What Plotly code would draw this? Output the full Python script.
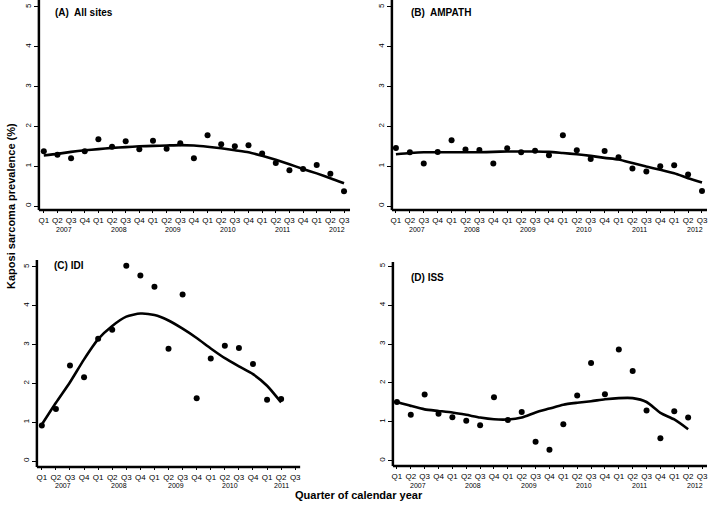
import plotly.graph_objects as go

quarters = ["Q1", "Q2", "Q3", "Q4"]
years_full = ["2007", "2008", "2009", "2010", "2011", "2012"]

# Panel A: All sites (Q1 2007 .. Q3 2012)
a_points = [1.375, 1.29, 1.2, 1.375, 1.675, 1.49, 1.625, 1.425, 1.64, 1.44, 1.575, 1.2,
            1.775, 1.55, 1.5, 1.525, 1.32, 1.08, 0.9, 0.93, 1.03, 0.81, 0.37]
a_fit = [1.27, 1.31, 1.36, 1.40, 1.43, 1.46, 1.48, 1.50, 1.51, 1.52, 1.53, 1.52,
         1.49, 1.45, 1.40, 1.35, 1.26, 1.16, 1.05, 0.93, 0.82, 0.70, 0.57]

# Panel B: AMPATH
b_points = [1.46, 1.35, 1.07, 1.36, 1.65, 1.42, 1.41, 1.07, 1.45, 1.35, 1.39, 1.275,
            1.775, 1.4, 1.18, 1.38, 1.225, 0.94, 0.87, 1.0, 1.025, 0.79, 0.38]
b_fit = [1.30, 1.33, 1.35, 1.35, 1.35, 1.35, 1.35, 1.36, 1.37, 1.37, 1.37, 1.36,
         1.33, 1.30, 1.26, 1.21, 1.17, 1.08, 0.99, 0.91, 0.82, 0.70, 0.59]

# Panel C: IDI (Q1 2007 .. Q2 2011, axis to Q3 2011)
c_points = [0.915, 1.34, 2.46, 2.16, 3.15, 3.385, 5.03, 4.78, 4.49, 2.89, 4.29, 1.615,
            2.64, 2.97, 2.91, 2.5, 1.58, 1.6]
c_fit = [0.94, 1.50, 2.03, 2.62, 3.14, 3.48, 3.72, 3.80, 3.76, 3.62, 3.41, 3.17,
         2.90, 2.65, 2.44, 2.24, 1.94, 1.51]

# Panel D: ISS (Q1 2007 .. Q2 2012, axis to Q3 2012)
d_points = [1.51, 1.18, 1.7, 1.21, 1.12, 1.03, 0.91, 1.63, 1.05, 1.25, 0.49, 0.28,
            0.94, 1.68, 2.51, 1.71, 2.86, 2.31, 1.29, 0.58, 1.27, 1.11]
d_fit = [1.51, 1.41, 1.32, 1.28, 1.24, 1.18, 1.11, 1.065, 1.06, 1.11, 1.24, 1.34,
         1.44, 1.49, 1.53, 1.58, 1.61, 1.61, 1.51, 1.23, 1.06, 0.81]

panel_titles = ["(A)  All sites", "(B)  AMPATH", "(C) IDI", "(D) ISS"]
y_title = "Kaposi sarcoma prevalence (%)"
x_title = "Quarter of calendar year"

W, H = 709, 506
FONT = "Liberation Sans, Arial, sans-serif"

def px_x(p):
    return p / W

def px_y(p):
    return (H - p) / H

panels = [
    dict(points=a_points, fit=a_fit, nq=23, xdom=(38, 350), ydom=(0, 210),
         xr=[-0.36, 22.44], yr=[-0.1, 5.175], title_xy=(52, 13), year_y=229,
         year_x=[1.5, 5.5, 9.5, 13.5, 17.5, 21.5]),
    dict(points=b_points, fit=b_fit, nq=23, xdom=(392, 708), ydom=(0, 210),
         xr=[-0.29, 22.36], yr=[-0.1, 5.175], title_xy=(409, 13), year_y=229,
         year_x=[1.5, 5.5, 9.5, 13.5, 17.5, 21.5]),
    dict(points=c_points, fit=c_fit, nq=19, xdom=(36, 300), ydom=(260, 467),
         xr=[-0.35, 18.35], yr=[-0.154, 5.18], title_xy=(51, 265), year_y=485,
         year_x=[1.5, 5.5, 9.5, 13.4, 17.0]),
    dict(points=d_points, fit=d_fit, nq=23, xdom=(393, 708), ydom=(262, 466),
         xr=[-0.29, 22.36], yr=[-0.136, 5.11], title_xy=(409, 277), year_y=485,
         year_x=[1.5, 5.5, 9.5, 13.5, 17.5, 21.5]),
]

fig = go.Figure()
annotations = []
shapes = []
layout_axes = {}

for i, p in enumerate(panels):
    n = i + 1
    xa = "x" if n == 1 else f"x{n}"
    ya = "y" if n == 1 else f"y{n}"
    xs_pts = list(range(len(p["points"])))
    xs_fit = list(range(len(p["fit"])))
    fig.add_trace(go.Scatter(x=xs_pts, y=p["points"], mode="markers",
                             marker=dict(color="black", size=6),
                             xaxis=xa, yaxis=ya, showlegend=False, cliponaxis=False,
                             hoverinfo="skip"))
    fig.add_trace(go.Scatter(x=xs_fit, y=p["fit"], mode="lines",
                             line=dict(color="black", width=2.6, shape="spline", smoothing=0.6),
                             xaxis=xa, yaxis=ya, showlegend=False, hoverinfo="skip"))
    tickvals = list(range(p["nq"]))
    ticktext = [quarters[k % 4] for k in tickvals]
    xkey = "xaxis" if n == 1 else f"xaxis{n}"
    ykey = "yaxis" if n == 1 else f"yaxis{n}"
    layout_axes[xkey] = dict(
        domain=[px_x(p["xdom"][0]), px_x(p["xdom"][1])], range=p["xr"],
        anchor=ya, tickvals=tickvals, ticktext=ticktext, tickangle=0,
        showline=False, ticks="outside",
        ticklen=2, tickwidth=1, tickcolor="black", showgrid=False, zeroline=False,
        ticklabeloverflow="allow", fixedrange=True,
        tickfont=dict(family=FONT, size=8, color="black"))
    layout_axes[ykey] = dict(
        domain=[px_y(p["ydom"][1]), px_y(p["ydom"][0])], range=p["yr"],
        anchor=xa, tickvals=[0, 1, 2, 3, 4, 5], tickangle=-90,
        showline=False, ticks="outside",
        ticklen=4, tickwidth=1, tickcolor="black", showgrid=False, zeroline=False,
        ticklabeloverflow="allow", fixedrange=True,
        tickfont=dict(family=FONT, size=8, color="black"))
    # axis lines drawn along the axis domains (left and bottom edges)
    shapes.append(dict(type="line", xref=f"{xa} domain", yref=f"{ya} domain",
                       x0=0, x1=0, y0=0, y1=1, line=dict(color="black", width=2.5)))
    shapes.append(dict(type="line", xref=f"{xa} domain", yref=f"{ya} domain",
                       x0=0, x1=1, y0=0, y1=0, line=dict(color="black", width=2.5)))
    tx, ty = p["title_xy"]
    annotations.append(dict(text=f"<b>{panel_titles[i]}</b>", x=px_x(tx), y=px_y(ty),
                            xref="paper", yref="paper", xanchor="left", yanchor="middle",
                            showarrow=False, font=dict(family=FONT, size=10, color="black")))
    for j, yx in enumerate(p["year_x"]):
        annotations.append(dict(text=years_full[j], x=yx, y=px_y(p["year_y"]),
                                xref=xa, yref="paper", xanchor="center", yanchor="middle",
                                showarrow=False, font=dict(family=FONT, size=7, color="black")))

annotations.append(dict(text=f"<b>{y_title}</b>", x=px_x(10), y=px_y(206), xref="paper",
                        yref="paper", textangle=-90, showarrow=False,
                        xanchor="center", yanchor="middle",
                        font=dict(family=FONT, size=11, color="black")))
annotations.append(dict(text=f"<b>{x_title}</b>", x=px_x(359), y=px_y(495), xref="paper",
                        yref="paper", showarrow=False, xanchor="center", yanchor="middle",
                        font=dict(family=FONT, size=11, color="black")))

fig.update_layout(width=W, height=H, margin=dict(l=0, r=0, t=0, b=0),
                  paper_bgcolor="white", plot_bgcolor="white", hovermode=False,
                  annotations=annotations, shapes=shapes, **layout_axes)

fig.write_html("out.html", config={"displayModeBar": False, "staticPlot": True},
               post_script="document.body.style.margin='0px';")
